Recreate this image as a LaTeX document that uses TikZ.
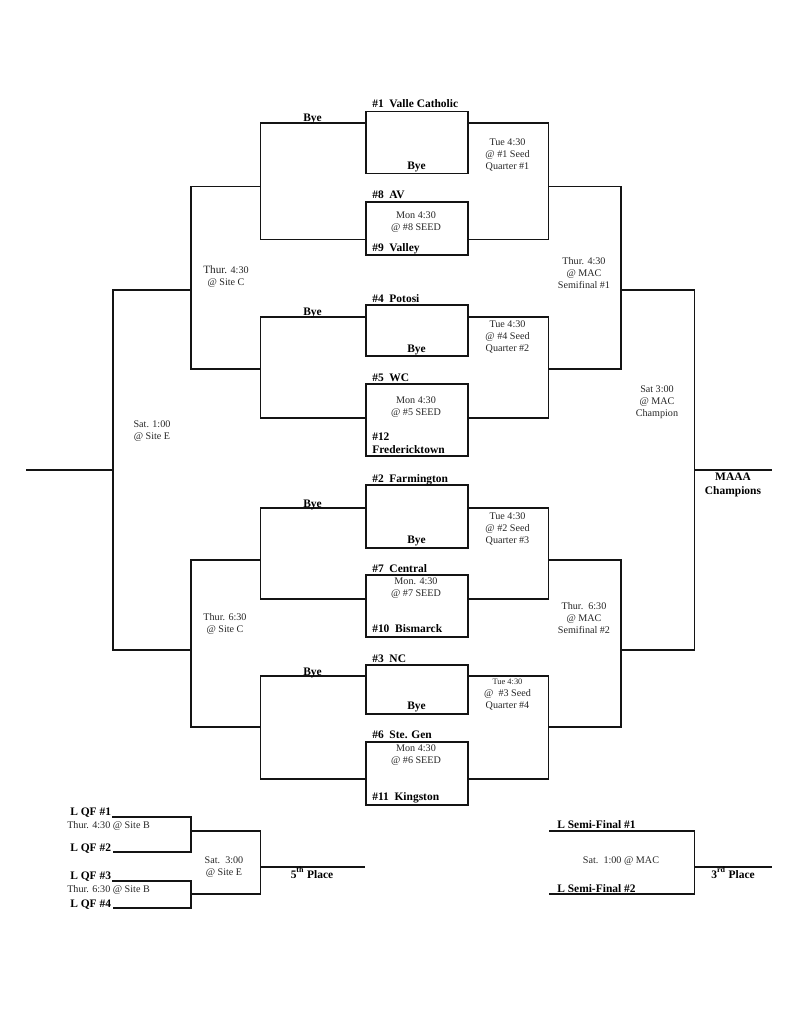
\documentclass[tikz,border=0pt]{standalone}
\usepackage{fontspec}
\setmainfont{Liberation Serif}
\tikzset{
  x=0.75pt, y=-0.75pt,
  heavy/.style={line width=1.4pt, line join=miter, color=black!92},
  light/.style={line width=1.2pt, color=black!92},
  gamebox/.style={draw, heavy, minimum width=76.5pt, inner sep=0pt, anchor=north west},
  team/.style={anchor=base west, inner sep=0pt, font=\fontsize{8.6}{10}\selectfont\bfseries},
  teamc/.style={anchor=base, inner sep=0pt, font=\fontsize{8.6}{10}\selectfont\bfseries},
  twoline/.style={anchor=center, inner sep=0pt, align=center, font=\fontsize{8.6}{10.4}\selectfont\bfseries},
  info/.style={anchor=center, inner sep=0pt, align=center, text=black!85, font=\fontsize{7.6}{9}\selectfont},
  infol/.style={anchor=base west, inner sep=0pt, text=black!85, font=\fontsize{7.6}{9}\selectfont},
}
\begin{document}
\begin{tikzpicture}
\useasboundingbox (0,0) rectangle (791,1024);
% boxes: height given in pt = px*.75
\node[gamebox, minimum height=46.5pt] (b1) at (365,110.5) {};
\node[gamebox, minimum height=39.75pt] (b8) at (365,201) {};
\node[gamebox, minimum height=38.25pt] (b4) at (365,304) {};
\node[gamebox, minimum height=54pt] (b5) at (365,383) {};
\node[gamebox, minimum height=47.25pt] (b2) at (365,484) {};
\node[gamebox, minimum height=46.5pt] (b7) at (365,574) {};
\node[gamebox, minimum height=36.75pt] (b3) at (365,664) {};
\node[gamebox, minimum height=47.25pt] (b6) at (365,741) {};
% junction coordinates
\coordinate (lq1) at (260.5,123); \coordinate (lq1b) at (260.5,239.5);
\coordinate (rq1) at (548.5,123); \coordinate (rq1b) at (548.5,239.5);
\coordinate (lq2) at (260.5,317); \coordinate (lq2b) at (260.5,418);
\coordinate (rq2) at (548.5,317); \coordinate (rq2b) at (548.5,418);
\coordinate (lq3) at (260.5,508); \coordinate (lq3b) at (260.5,599);
\coordinate (rq3) at (548.5,508); \coordinate (rq3b) at (548.5,599);
\coordinate (lq4) at (260.5,676); \coordinate (lq4b) at (260.5,779);
\coordinate (rq4) at (548.5,676); \coordinate (rq4b) at (548.5,779);
\coordinate (ls1) at (191,186.5); \coordinate (ls1b) at (191,369);
\coordinate (rs1) at (621,186.5); \coordinate (rs1b) at (621,369);
\coordinate (ls2) at (191,560); \coordinate (ls2b) at (191,727);
\coordinate (rs2) at (621,560); \coordinate (rs2b) at (621,727);
\coordinate (lf) at (113,290); \coordinate (lfb) at (113,650);
\coordinate (rf) at (694.5,290); \coordinate (rfb) at (694.5,650);
\coordinate (lend) at (26,470); \coordinate (rend) at (772,470);
% quarterfinal brackets
\draw[heavy] (b1.west |- lq1) -- (lq1) -- (lq1b) -- (b8.west |- lq1b);
\draw[heavy] (b1.east |- rq1) -- (rq1) -- (rq1b) -- (b8.east |- rq1b);
\draw[heavy] (b4.west |- lq2) -- (lq2) -- (lq2b) -- (b5.west |- lq2b);
\draw[heavy] (b4.east |- rq2) -- (rq2) -- (rq2b) -- (b5.east |- rq2b);
\draw[heavy] (b2.west |- lq3) -- (lq3) -- (lq3b) -- (b7.west |- lq3b);
\draw[heavy] (b2.east |- rq3) -- (rq3) -- (rq3b) -- (b7.east |- rq3b);
\draw[heavy] (b3.west |- lq4) -- (lq4) -- (lq4b) -- (b6.west |- lq4b);
\draw[heavy] (b3.east |- rq4) -- (rq4) -- (rq4b) -- (b6.east |- rq4b);
% semifinal brackets
\draw[heavy] (lq1 |- ls1) -- (ls1) -- (ls1b) -- (lq2 |- ls1b);
\draw[heavy] (rq1 |- rs1) -- (rs1) -- (rs1b) -- (rq2 |- rs1b);
\draw[heavy] (lq3 |- ls2) -- (ls2) -- (ls2b) -- (lq4 |- ls2b);
\draw[heavy] (rq3 |- rs2) -- (rs2) -- (rs2b) -- (rq4 |- rs2b);
% final brackets
\draw[heavy] (ls1 |- lf) -- (lf) -- (lfb) -- (ls2 |- lfb);
\draw[heavy] (rs1 |- rf) -- (rf) -- (rfb) -- (rs2 |- rfb);
\draw[light] (lend) -- (lend -| lf);
\draw[light] (rend -| rf) -- (rend);
% consolation left
\coordinate (c1) at (112,817); \coordinate (c1m) at (191,817); \coordinate (c1n) at (191,852); \coordinate (c1e) at (113,852);
\coordinate (c2) at (112,881); \coordinate (c2m) at (191,881); \coordinate (c2n) at (191,908); \coordinate (c2e) at (113,908);
\coordinate (c3) at (260.5,831); \coordinate (c3b) at (260.5,894); \coordinate (c3o) at (365,867);
\draw[heavy] (c1) -- (c1m) -- (c1n) -- (c1e);
\draw[heavy] (c2) -- (c2m) -- (c2n) -- (c2e);
\draw[heavy] (c1m |- c3) -- (c3) -- (c3b) -- (c2m |- c3b);
\draw[light] (c3 |- c3o) -- (c3o);
% consolation right
\coordinate (d1) at (549,831); \coordinate (d2) at (694.5,831); \coordinate (d3) at (694.5,894); \coordinate (d4) at (549,894); \coordinate (do) at (772,867);
\draw[heavy] (d1) -- (d2) -- (d3) -- (d4);
\draw[light] (d2 |- do) -- (do);
% team labels
\node[team] (t1) at (372,108) {\#1\ \ Valle Catholic};
\node[team] (t8) at (372,198) {\#8\ \ AV};
\node[team] (t9) at (372,251) {\#9\ \ Valley};
\node[team] (t4) at (372,302) {\#4\ \ Potosi};
\node[team] (t5) at (372,381) {\#5\ \ WC};
\node[team] (t12) at (372,440) {\#12};
\node[team] (t12b) at (372,453) {Fredericktown};
\node[team] (t2) at (372,482) {\#2\ \ Farmington};
\node[team] (t7) at (372,572) {\#7\ \ Central};
\node[team] (t10) at (372,632) {\#10\ \ Bismarck};
\node[team] (t3) at (372,662) {\#3\ \ NC};
\node[team] (t6) at (372,738) {\#6\ \ Ste. Gen};
\node[team] (t11) at (372,800) {\#11\ \ Kingston};
% byes
\node[team] (by1) at (303,121) {Bye};
\node[team] (by2) at (407,169) {Bye};
\node[team] (by3) at (303,315) {Bye};
\node[team] (by4) at (407,352) {Bye};
\node[team] (by5) at (303,507) {Bye};
\node[team] (by6) at (407,543) {Bye};
\node[team] (by7) at (303,675) {Bye};
\node[team] (by8) at (407,709) {Bye};
% first-round games
\node[info] (m8) at (416,222) {Mon 4:30\\@ \#8 SEED};
\node[info] (m5) at (416,407) {Mon 4:30\\@ \#5 SEED};
\node[info] (m7) at (416,588) {Mon. 4:30\\@ \#7 SEED};
\node[info] (m6) at (416,755) {Mon 4:30\\@ \#6 SEED};
% quarterfinals
\node[info] (q1) at (507.5,155) {Tue 4:30\\@ \#1 Seed\\Quarter \#1};
\node[info] (q2) at (507.5,337) {Tue 4:30\\@ \#4 Seed\\Quarter \#2};
\node[info] (q3) at (507.5,529) {Tue 4:30\\@ \#2 Seed\\Quarter \#3};
\node[info] (q4) at (507.5,695) {{\fontsize{6.3}{9}\selectfont Tue 4:30}\\@\ \ \#3 Seed\\Quarter \#4};
% semis
\node[info] (s1) at (584,273) {Thur. 4:30\\@ MAC\\Semifinal \#1};
\node[info] (s2) at (584,618) {Thur.\ \ 6:30\\@ MAC\\Semifinal \#2};
\node[info] (s3) at (226,277) {{\fontsize{8.4}{9}\selectfont Thur.} 4:30\\@ Site C};
\node[info] (s4) at (225,624) {Thur. 6:30\\@ Site C};
% finals
\node[info] (f1) at (152,431) {Sat. 1:00\\@ Site E};
\node[info] (f2) at (657,402) {Sat 3:00\\@ MAC\\Champion};
\node[twoline] (champ) at (733,485) {MAAA\\Champions};
% consolation labels
\node[team] (l1) at (70,815) {L QF \#1};
\node[infol] (l1t) at (67,828) {Thur. 4:30 @ Site B};
\node[team] (l2) at (70,851) {L QF \#2};
\node[team] (l3) at (70,879) {L QF \#3};
\node[infol] (l3t) at (67,892) {Thur. 6:30 @ Site B};
\node[team] (l4) at (70,907) {L QF \#4};
\node[info] (c5) at (224,867) {Sat.\ \ 3:00\\@ Site E};
\node[teamc] (p5) at (312,878) {5\textsuperscript{th} Place};
\node[team] (ls1l) at (557,828) {L Semi-Final \#1};
\node[team] (ls2l) at (557,892) {L Semi-Final \#2};
\node[info] (c3l) at (621,861) {Sat.\ \ 1:00 @ MAC};
\node[teamc] (p3) at (733,878) {3\textsuperscript{rd} Place};
\end{tikzpicture}
\end{document}
